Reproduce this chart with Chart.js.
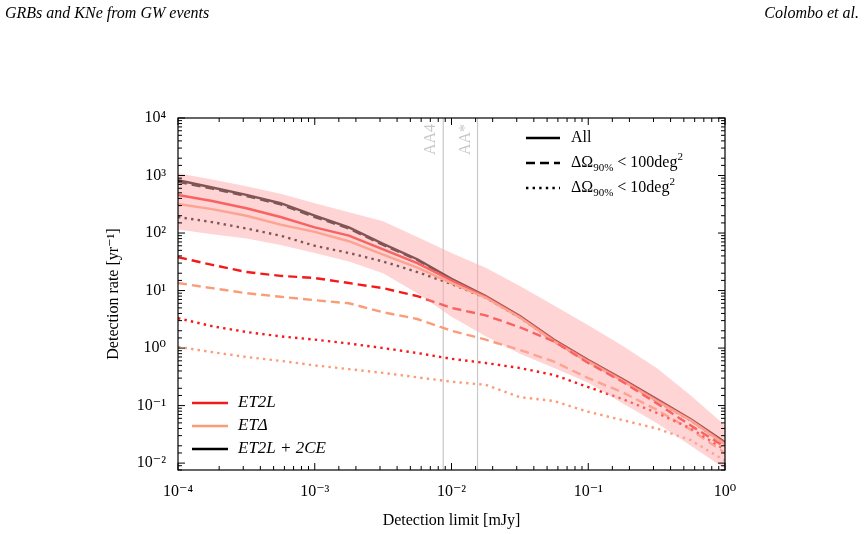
<!DOCTYPE html>
<html><head><meta charset="utf-8">
<script src="https://cdn.jsdelivr.net/npm/chart.js@4/dist/chart.umd.min.js"></script>
<style>html,body{margin:0;padding:0;background:#fff}#w{width:867px;height:534px}</style>
</head><body><div id="w"><canvas id="c" width="867" height="534"></canvas></div>
<script>
const xLog = [-4,-3.75,-3.5,-3.25,-3,-2.75,-2.5,-2.25,-2,-1.75,-1.5,-1.25,-1,-0.75,-0.5,-0.25,0];
const allSolid   = [830,620,460,330,200,125,65,35,16,8,3.6,1.4,0.62,0.29,0.13,0.058,0.023];
const allDash    = [780,590,440,315,190,120,62,34,15.5,7.8,3.5,1.35,0.6,0.28,0.125,0.056,0.022];
const allDot     = [190,155,120,90,60,45,32,21,13,7.5,3.4,1.3,0.58,0.27,0.12,0.055,0.021];
const et2lSolid  = [460,360,270,190,125,90,52,30,15,7.8,3.5,1.35,0.6,0.28,0.125,0.056,0.022];
const etdSolid   = [320,260,200,140,105,72,42,25,13.5,7.5,3.4,1.3,0.58,0.27,0.12,0.055,0.021];
const et2lDash   = [38,28,21,18,16.5,13.5,11,8,5,3.7,2.3,1.3,0.55,0.26,0.11,0.045,0.019];
const etdDash    = [13.5,11,9,7.8,6.8,6,4.2,3.2,2.0,1.4,0.93,0.58,0.30,0.17,0.085,0.038,0.015];
const et2lDot    = [3.3,2.4,1.9,1.6,1.4,1.2,1.0,0.82,0.65,0.55,0.45,0.34,0.21,0.13,0.075,0.04,0.017];
const etdDot     = [1.05,0.85,0.7,0.6,0.5,0.43,0.37,0.31,0.26,0.23,0.14,0.12,0.078,0.056,0.04,0.025,0.011];
const bandHi     = [1100,850,650,480,330,230,160,85,45,25,12,5.5,2.5,1.1,0.45,0.15,0.045];
const bandLo     = [115,95,80,62,45,32,20,9,3.5,1.6,0.8,0.45,0.25,0.11,0.05,0.02,0.008];
const vlines = [{x:0.0087,label:'AA4'},{x:0.0155,label:'AA*'}];
const sup = {'-':'⁻','0':'⁰','1':'¹','2':'²','3':'³','4':'⁴'};
const pow = v => { const e=Math.round(Math.log10(v)); return '10'+String(e).split('').map(c=>sup[c]).join(''); };

const RED='#f51a1a', SAL='#fb9c78', BLK='#000';
const pts = arr => xLog.map((l,i)=>({x:Math.pow(10,l),y:arr[i]}));
const ds = (arr,col,dash,w)=>({data:pts(arr),borderColor:col,borderWidth:w||2.4,borderDash:dash,pointRadius:0,fill:false,tension:0});
const DASH=[9,5], DOT=[2.4,4.2];
const SERIF='"Liberation Serif","DejaVu Serif",serif';

const deco = {
  id:'deco',
  beforeDatasetsDraw(ch){
    const c=ch.ctx, a=ch.chartArea, xs=ch.scales.x;
    c.save();
    vlines.forEach(v=>{
      const px=xs.getPixelForValue(v.x);
      c.strokeStyle='#c8c8c8'; c.lineWidth=1.2;
      c.beginPath(); c.moveTo(px,a.top); c.lineTo(px,a.bottom); c.stroke();
      c.save(); c.translate(px-4,a.top+6); c.rotate(-Math.PI/2);
      c.fillStyle='#c8c8c8'; c.font='16px '+SERIF; c.textAlign='right'; c.textBaseline='bottom';
      c.fillText(v.label,0,0); c.restore();
    });
    c.restore();
  },
  afterDraw(ch){
    const c=ch.ctx, a=ch.chartArea, xs=ch.scales.x, ys=ch.scales.y;
    c.save(); c.strokeStyle='#000'; c.lineWidth=1;
    const tk=(scale,horiz)=>{
      scale.ticks.forEach(t=>{
        const v=t.value, m=Math.abs(Math.log10(v)-Math.round(Math.log10(v)))<1e-6;
        const L=m?7:4, p=scale.getPixelForValue(v);
        c.beginPath();
        if(horiz){c.moveTo(p,a.bottom);c.lineTo(p,a.bottom-L);c.moveTo(p,a.top);c.lineTo(p,a.top+L);}
        else{c.moveTo(a.left,p);c.lineTo(a.left+L,p);c.moveTo(a.right,p);c.lineTo(a.right-L,p);}
        c.stroke();
      });
    };
    tk(xs,true); tk(ys,false);
    c.lineWidth=1.2; c.strokeRect(a.left,a.top,a.right-a.left,a.bottom-a.top);
    c.fillStyle='#000'; c.textBaseline='middle'; c.textAlign='left';
    const L1=[{d:[],t:'All'},{d:DASH,t:'100'},{d:DOT,t:'10'}];
    L1.forEach((e,i)=>{
      const y=138+i*25, x0=526;
      c.strokeStyle='#000';
      c.setLineDash(e.d); c.lineWidth=2.4; c.beginPath(); c.moveTo(x0,y); c.lineTo(x0+34,y); c.stroke(); c.setLineDash([]);
      let x=571;
      c.font='16px '+SERIF;
      if(e.t==='All'){c.fillText('All',x,y);return;}
      c.fillText('ΔΩ',x,y); x+=c.measureText('ΔΩ').width;
      c.font='11px '+SERIF; c.fillText('90%',x,y+5); x+=c.measureText('90%').width+4;
      c.font='16px '+SERIF; const s='< '+e.t+'deg'; c.fillText(s,x,y); x+=c.measureText(s).width;
      c.font='11px '+SERIF; c.fillText('2',x,y-6);
    });
    const L2=[{c:RED,t:'ET2L'},{c:SAL,t:'ETΔ'},{c:BLK,t:'ET2L + 2CE'}];
    L2.forEach((e,i)=>{
      const y=403+i*23;
      c.strokeStyle=e.c; c.lineWidth=2.6; c.beginPath(); c.moveTo(192,y); c.lineTo(228,y); c.stroke();
      c.font='italic 17px '+SERIF; c.fillStyle='#000'; c.fillText(e.t,238,y);
    });
    c.font='italic 16px '+SERIF; c.textBaseline='alphabetic';
    c.textAlign='left'; c.fillText('GRBs and KNe from GW events',5,18);
    c.textAlign='right'; c.fillText('Colombo et al.',859,18);
    c.restore();
  }
};

new Chart(document.getElementById('c'),{
  type:'line',
  data:{datasets:[
    {data:pts(bandLo),borderWidth:0,pointRadius:0,fill:false,borderColor:'rgba(0,0,0,0)'},
    {data:pts(bandHi),borderWidth:0,pointRadius:0,fill:'-1',backgroundColor:'rgba(255,170,170,0.5)',borderColor:'rgba(0,0,0,0)'},
    ds(etdDot,SAL,DOT), ds(et2lDot,RED,DOT),
    ds(etdDash,SAL,DASH), ds(et2lDash,RED,DASH),
    ds(etdSolid,SAL,[]), ds(et2lSolid,RED,[]),
    ds(allDot,BLK,DOT), ds(allDash,BLK,DASH), ds(allSolid,BLK,[])
  ]},
  options:{
    responsive:false, animation:false, devicePixelRatio:1,
    layout:{padding:{left:100,right:142,top:118,bottom:0}},
    plugins:{legend:{display:false},tooltip:{enabled:false}},
    scales:{
      x:{type:'logarithmic',min:1e-4,max:1,
        afterFit:s=>{s.height=64;},
        grid:{display:false},border:{display:false},
        ticks:{autoSkip:false,maxRotation:0,color:'#000',font:{family:SERIF,size:16},padding:4,
          callback:(v)=>{const l=Math.log10(v);return Math.abs(l-Math.round(l))<1e-6?pow(v):'';}},
        title:{display:true,text:'Detection limit [mJy]',color:'#000',font:{family:SERIF,size:16},padding:{top:0}}},
      y:{type:'logarithmic',min:Math.pow(10,-2.12),max:1e4,
        afterFit:s=>{s.width=78;},
        grid:{display:false},border:{display:false},
        ticks:{autoSkip:false,color:'#000',font:{family:SERIF,size:16},padding:4,
          callback:(v)=>{const l=Math.log10(v);return Math.abs(l-Math.round(l))<1e-6?pow(v):'';}},
        title:{display:true,text:'Detection rate [yr⁻¹]',color:'#000',font:{family:SERIF,size:16},padding:{bottom:2}}}
    }
  },
  plugins:[deco]
});
</script></body></html>
